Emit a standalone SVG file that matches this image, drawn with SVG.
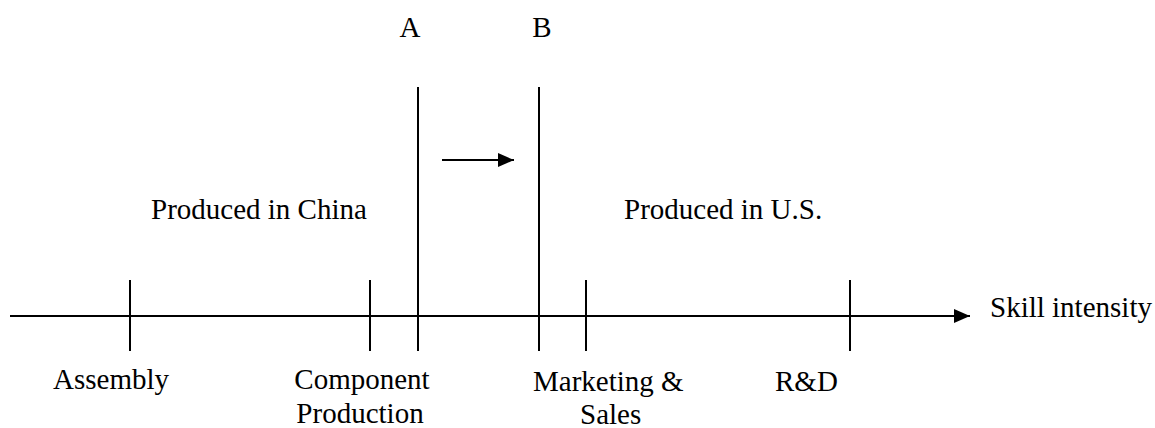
<svg xmlns="http://www.w3.org/2000/svg" width="1155" height="428" viewBox="0 0 1155 428">
<defs>
<style>
.t{font-family:"Liberation Serif","Times New Roman",serif;font-size:29px;fill:#000}
.l{stroke:#000;stroke-width:2;fill:none}
</style>
<marker id="ah" markerWidth="18" markerHeight="14" refX="16" refY="7" orient="auto" markerUnits="userSpaceOnUse">
<path d="M0,0 L16,7 L0,14 Z" fill="#000"/>
</marker>
</defs>
<rect width="1155" height="428" fill="#fff"/>
<g id="connectors">
<line class="l" x1="10" y1="316" x2="970" y2="316" marker-end="url(#ah)"/>
<line class="l" x1="442" y1="160" x2="514" y2="160" marker-end="url(#ah)"/>
</g>
<g id="tick-assembly"><line class="l" x1="130" y1="280" x2="130" y2="351"/><text class="t" x="53" y="389">Assembly</text></g>
<g id="tick-component"><line class="l" x1="370" y1="280" x2="370" y2="351"/><text class="t" x="362" y="389" text-anchor="middle">Component</text><text class="t" x="360" y="423" text-anchor="middle">Production</text></g>
<g id="line-A"><line class="l" x1="418" y1="87" x2="418" y2="351"/><text class="t" x="410" y="37" text-anchor="middle">A</text></g>
<g id="line-B"><line class="l" x1="539" y1="87" x2="539" y2="351"/><text class="t" x="542" y="37" text-anchor="middle">B</text></g>
<g id="tick-marketing"><line class="l" x1="586" y1="280" x2="586" y2="351"/><text class="t" x="533" y="391">Marketing &amp;</text><text class="t" x="580" y="424">Sales</text></g>
<g id="tick-rd"><line class="l" x1="850" y1="280" x2="850" y2="351"/><text class="t" x="775" y="391">R&amp;D</text></g>
<g id="label-axis"><text class="t" x="990" y="317">Skill intensity</text></g>
<g id="label-china"><text class="t" x="151" y="219">Produced in China</text></g>
<g id="label-us"><text class="t" x="624" y="219">Produced in U.S.</text></g>
</svg>
